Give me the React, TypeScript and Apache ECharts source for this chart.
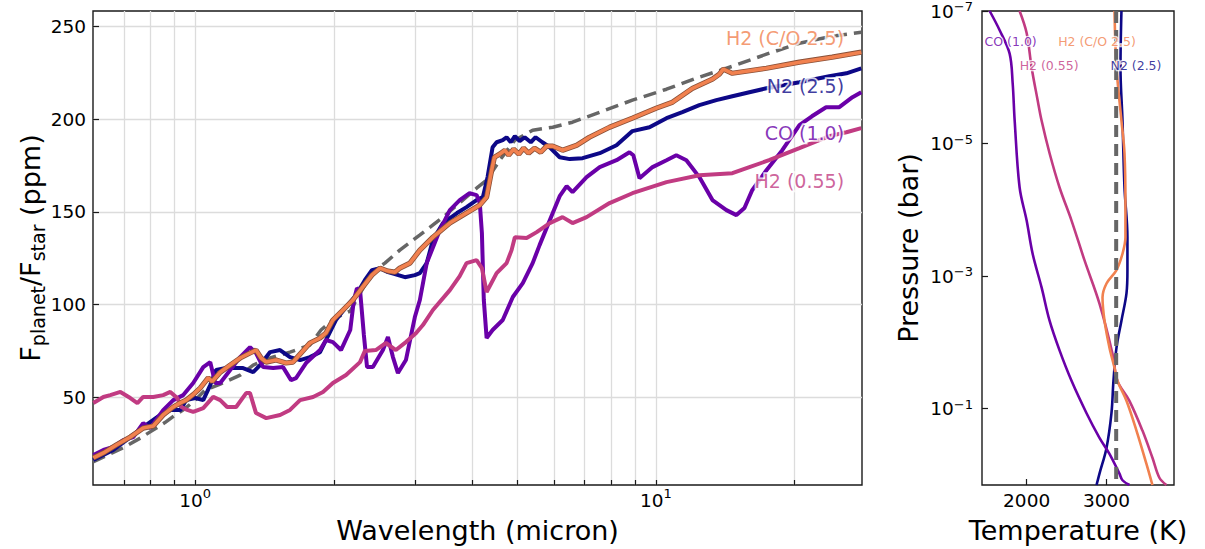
import React, { useEffect, useRef } from 'react';
import * as echarts from 'echarts';

const FONT = 'DejaVu Sans';
const NAVY = '#0d0887';
const PURPLE = '#6a00a8';
const PINK = '#c13b82';
const ORANGE = '#f1814f';
const GREY = '#666666';

// ---------- Emission spectra: [wavelength (micron), Fplanet/Fstar (ppm)] ----------
const isoSpectrum = [
  [0.60, 15.1], [0.654, 19.5], [0.698, 22.8], [0.76, 28.0], [0.80, 31.5], [0.861, 36.5], [0.90, 40.0],
  [0.951, 44.0], [1.0, 48.5], [1.051, 53.9], [1.133, 57.1], [1.252, 62.0], [1.336, 67.4], [1.454, 71.2],
  [1.606, 74.4], [1.774, 78.2], [1.875, 86.3], [2.01, 92.7], [2.17, 96.5], [2.30, 107.8], [2.42, 117.5],
  [2.58, 122.4], [2.78, 129.4], [3.07, 137.5], [3.45, 147.2], [3.70, 153.7], [4.08, 162.8], [4.29, 167.1],
  [4.58, 177.9], [4.94, 188.7], [5.40, 194.1], [5.97, 195.7], [6.59, 198.4], [7.55, 203.8], [8.89, 210.3],
  [10.54, 216.2], [12.42, 222.7], [14.65, 228.6], [17.37, 235.1], [20.48, 241.0], [24.12, 244.8], [27.9, 246.9],
];

const n2Spectrum = [
  [0.601, 16.2], [0.632, 18.9], [0.664, 21.6], [0.709, 26.9], [0.771, 33.9], [0.84, 40.5], [0.883, 43.1],
  [0.928, 43.1], [0.956, 48.5], [1.0, 49.6], [1.041, 48.5], [1.078, 56.6], [1.11, 64.7], [1.167, 65.8],
  [1.27, 65.8], [1.336, 63.6], [1.383, 67.4], [1.454, 74.4], [1.528, 75.5], [1.606, 71.7], [1.689, 70.1],
  [1.774, 71.7], [1.866, 74.4], [1.922, 80.9], [2.02, 91.7], [2.125, 98.7], [2.233, 105.1], [2.334, 113.2],
  [2.418, 118.6], [2.518, 119.7], [2.62, 117.5], [2.713, 116.5], [2.852, 114.8], [2.997, 115.9], [3.073, 117.0],
  [3.18, 122.4], [3.28, 134.8], [3.45, 144.0], [3.70, 149.4], [3.88, 152.6], [4.08, 156.4], [4.21, 158.0],
  [4.31, 168.8], [4.42, 184.9], [4.51, 187.6], [4.65, 188.7], [4.74, 190.3], [4.84, 187.6], [4.94, 190.9],
  [5.06, 188.2], [5.19, 190.3], [5.35, 187.6], [5.48, 190.3], [5.67, 187.6], [5.88, 184.9], [6.18, 179.5],
  [6.50, 178.5], [6.93, 179.0], [7.55, 181.7], [8.21, 186.0], [8.89, 193.6], [9.68, 195.7], [10.54, 200.6],
  [11.41, 203.8], [12.42, 207.6], [13.52, 210.3], [14.65, 212.4], [15.95, 214.6], [17.37, 216.7],
  [20.48, 220.0], [23.77, 223.2], [25.9, 224.8], [27.9, 227.5],
];

const h2HighSpectrum = [
  [0.601, 17.3], [0.632, 20.0], [0.674, 24.3], [0.723, 28.6], [0.771, 33.4], [0.811, 34.5], [0.852, 40.5],
  [0.896, 44.8], [0.928, 47.0], [0.956, 48.5], [0.99, 51.5], [1.025, 55.0], [1.067, 60.5], [1.088, 58.5],
  [1.133, 63.5], [1.191, 67.4], [1.252, 71.2], [1.315, 73.9], [1.355, 75.5], [1.39, 71.2], [1.426, 69.0],
  [1.498, 70.1], [1.574, 68.5], [1.63, 69.0], [1.697, 73.9], [1.774, 79.3], [1.866, 82.0], [1.922, 84.7],
  [1.99, 91.7], [2.093, 97.1], [2.199, 102.5], [2.30, 108.9], [2.418, 115.9], [2.518, 119.7], [2.62, 118.1],
  [2.713, 117.5], [2.78, 119.7], [2.924, 122.4], [3.073, 129.4], [3.28, 136.4], [3.57, 144.0], [3.88, 149.4],
  [4.146, 153.7], [4.29, 158.0], [4.40, 172.5], [4.46, 179.5], [4.58, 181.2], [4.70, 183.3], [4.79, 180.6],
  [4.91, 183.9], [5.04, 181.2], [5.16, 184.4], [5.29, 181.7], [5.45, 184.4], [5.62, 182.2], [5.79, 185.5],
  [5.97, 185.5], [6.27, 183.3], [6.73, 186.0], [7.17, 190.3], [7.93, 195.7], [8.89, 200.6], [10.02, 206.0],
  [10.86, 209.2], [12.0, 216.7], [13.26, 221.6], [13.73, 224.3], [14.0, 227.0], [14.65, 224.8],
  [17.37, 227.5], [20.48, 230.8], [24.12, 233.5], [27.9, 236.2],
];

const coSpectrum = [
  [0.601, 18.9], [0.632, 21.6], [0.664, 23.2], [0.698, 26.9], [0.734, 28.6], [0.771, 36.1], [0.799, 33.4],
  [0.852, 43.1], [0.896, 48.5], [0.942, 51.2], [0.99, 57.7], [1.041, 66.3], [1.078, 69.0], [1.105, 57.7],
  [1.133, 57.7], [1.191, 64.7], [1.252, 71.7], [1.315, 77.1], [1.355, 73.9], [1.404, 66.3], [1.476, 65.8],
  [1.551, 66.3], [1.614, 59.3], [1.655, 60.4], [1.74, 68.5], [1.866, 75.5], [1.922, 80.9], [1.99, 79.8],
  [2.072, 75.5], [2.17, 86.3], [2.21, 102.5], [2.244, 108.9], [2.279, 107.8], [2.323, 83.6], [2.36, 66.3],
  [2.43, 66.3], [2.555, 75.5], [2.62, 82.5], [2.686, 71.7], [2.754, 63.1], [2.866, 70.1], [2.997, 93.3],
  [3.073, 102.5], [3.18, 122.4], [3.396, 140.2], [3.57, 151.0], [3.75, 156.4], [3.94, 160.1], [4.08, 159.1],
  [4.146, 154.8], [4.19, 138.6], [4.23, 102.5], [4.29, 82.0], [4.42, 86.3], [4.65, 91.7], [4.89, 104.1],
  [5.14, 111.6], [5.40, 122.4], [5.59, 132.1], [5.97, 149.4], [6.18, 158.5], [6.40, 163.9], [6.59, 160.7],
  [7.07, 168.8], [7.55, 174.2], [8.21, 177.9], [8.76, 182.2], [8.93, 180.6], [9.21, 168.2], [9.83, 174.2],
  [10.54, 177.9], [11.07, 180.6], [11.64, 177.9], [12.42, 168.8], [13.26, 156.4], [14.22, 151.0],
  [14.95, 148.3], [15.56, 152.1], [16.18, 161.8], [17.37, 172.5], [18.8, 183.3], [20.48, 196.8],
  [21.8, 201.6], [23.4, 206.5], [25.0, 206.5], [26.7, 211.9], [27.9, 214.6],
];

const h2LowSpectrum = [
  [0.601, 46.9], [0.632, 50.2], [0.654, 51.2], [0.688, 52.9], [0.723, 49.6], [0.749, 46.9], [0.771, 50.2],
  [0.811, 50.2], [0.852, 51.2], [0.883, 52.9], [0.914, 49.6], [0.933, 44.8], [0.961, 43.2], [0.99, 42.1],
  [1.041, 44.2], [1.094, 50.2], [1.133, 48.5], [1.173, 44.8], [1.227, 44.8], [1.29, 52.3], [1.315, 52.3],
  [1.355, 41.5], [1.426, 38.8], [1.528, 40.5], [1.606, 43.2], [1.689, 48.5], [1.802, 50.2], [1.894, 52.9],
  [1.99, 57.7], [2.125, 62.0], [2.279, 69.0], [2.334, 75.0], [2.466, 75.5], [2.594, 79.3], [2.726, 75.5],
  [2.866, 79.8], [3.013, 84.6], [3.12, 89.0], [3.28, 97.1], [3.57, 107.8], [3.75, 115.4], [3.88, 122.4],
  [4.08, 124.0], [4.19, 119.7], [4.29, 106.8], [4.51, 117.0], [4.74, 122.4], [4.86, 129.4], [4.94, 136.4],
  [5.24, 135.9], [5.51, 139.1], [5.88, 144.0], [6.27, 147.2], [6.59, 144.0], [7.07, 147.2], [7.93, 154.8],
  [8.89, 160.1], [10.54, 166.1], [12.42, 169.8], [14.65, 170.9], [15.95, 174.2], [17.6, 177.9],
  [20.48, 184.4], [23.77, 190.9], [25.9, 193.0], [27.9, 195.2],
];

// ---------- Temperature-pressure profiles: [T (K), P (bar)] ----------
const isoProfile = [[3121, 1e-7], [3121, 1.416]];
const coProfile = [
  [1537, 1e-7], [1662, 1.95e-7], [1787, 4.4e-7], [1825, 1.23e-6], [1850, 4.5e-6], [1912, 4.6e-5],
  [2000, 1.45e-4], [2075, 4.6e-4], [2187, 1.48e-3], [2287, 4.7e-3], [2412, 0.0132], [2562, 0.038],
  [2750, 0.117], [2912, 0.275], [3037, 0.48], [3162, 0.955], [3200, 1.2], [3287, 1.416],
];
const h2LowProfile = [
  [1912, 1e-7], [2000, 2.15e-7], [2062, 7.1e-7], [2137, 2.2e-6], [2187, 4.5e-6], [2287, 1.4e-5],
  [2412, 4.6e-5], [2562, 1.45e-4], [2725, 5.8e-4], [2912, 2.6e-3], [3075, 0.0148], [3137, 0.038],
  [3287, 0.076], [3450, 0.214], [3575, 0.55], [3662, 1.1], [3750, 1.416],
];
const h2HighProfile = [
  [3100, 1e-7], [3125, 7.1e-7], [3187, 4.5e-6], [3225, 1.4e-5], [3237, 7.9e-5], [3237, 2.6e-4],
  [3200, 4.6e-4], [3125, 8.1e-4], [3000, 1.29e-3], [2950, 2.1e-3], [2975, 4.7e-3], [3037, 0.012],
  [3100, 0.024], [3137, 0.038], [3250, 0.076], [3375, 0.214], [3500, 0.68], [3575, 1.416],
];
const n2Profile = [
  [3187, 1e-7], [3175, 7.1e-7], [3200, 4.5e-6], [3225, 4.6e-5], [3262, 2.6e-4], [3262, 8.1e-4],
  [3250, 1.82e-3], [3187, 4.7e-3], [3125, 0.012], [3087, 0.038], [3062, 0.117], [3000, 0.39],
  [2912, 0.955], [2875, 1.416],
];

// ---------- Ticks ----------
const wlLabelTicks = [1, 10];
const wlGridTicks = [0.7, 0.8, 0.9, 1, 2, 3, 4, 5, 6, 7, 8, 9, 10, 20];
const fluxTicks = [50, 100, 150, 200, 250];
const tempTicks = [2000, 3000];
const pressureTicks = [1.0001e-7, 1e-5, 1e-3, 1e-1];

// ---------- In-plot labels ----------
const spectrumLabels = [
  { text: 'H2 (C/O 2.5)', wl: 25.6, flux: 243.7, color: ORANGE },
  { text: 'N2 (2.5)', wl: 25.6, flux: 217.8, color: NAVY },
  { text: 'CO (1.0)', wl: 25.6, flux: 192.7, color: PURPLE },
  { text: 'H2 (0.55)', wl: 25.6, flux: 166.8, color: PINK },
];
const profileLabels = [
  { text: 'CO (1.0)', t: 1800, p: 2.9e-7, color: PURPLE },
  { text: 'H2 (C/O 2.5)', t: 2881, p: 2.9e-7, color: ORANGE },
  { text: 'H2 (0.55)', t: 2281, p: 6.56e-7, color: PINK },
  { text: 'N2 (2.5)', t: 3369, p: 6.56e-7, color: NAVY },
];

const supRich = {
  sup: { fontSize: 13, lineHeight: 16, verticalAlign: 'top', fontFamily: FONT, color: '#000' },
};
const supRichY = {
  sup: { fontSize: 13, lineHeight: 14, verticalAlign: 'top', fontFamily: FONT, color: '#000' },
};
const powLabel = (v: number) => {
  const e = Math.round(Math.log10(v));
  return '10{sup|' + (e < 0 ? '\u2212' + Math.abs(e) : String(e)) + '}';
};

export default function App() {
  const ref = useRef<HTMLDivElement>(null);
  useEffect(() => {
    if (!ref.current) return;
    const chart = echarts.init(ref.current, undefined, { renderer: 'svg' });
    const lineBase = { type: 'line', symbol: 'none', silent: true, clip: true };
    const option: any = {
      animation: false,
      backgroundColor: '#fff',
      grid: [
        { left: 93, top: 11, width: 769, height: 474, show: true, borderColor: '#1a1a1a', borderWidth: 1.4, backgroundColor: 'transparent', containLabel: false, outerBoundsMode: 'none' },
        { left: 982, top: 11, width: 192, height: 474, show: true, borderColor: '#1a1a1a', borderWidth: 1.4, backgroundColor: 'transparent', containLabel: false, outerBoundsMode: 'none' },
      ],
      xAxis: [
        {
          type: 'log', logBase: 10, gridIndex: 0, min: 0.6, max: 28,
          axisLine: { show: false },
          axisTick: { show: true, inside: true, length: 5, customValues: wlGridTicks, lineStyle: { color: '#1a1a1a', width: 1.2 } },
          axisLabel: { show: true, customValues: wlLabelTicks, formatter: powLabel, rich: supRich, fontSize: 18.5, lineHeight: 26, margin: 2, fontFamily: FONT, color: '#000' },
          splitLine: { show: true, lineStyle: { color: '#dcdcdc', width: 1.3 } },
          minorTick: { show: false }, minorSplitLine: { show: false },
        },
        {
          type: 'value', gridIndex: 1, min: 1441, max: 3845,
          axisLine: { show: false },
          axisTick: { show: true, inside: true, length: 6, customValues: tempTicks, lineStyle: { color: '#1a1a1a', width: 1.2 } },
          axisLabel: { show: true, customValues: tempTicks, formatter: (v: number) => String(Math.round(v)), fontSize: 18.5, lineHeight: 26, margin: 2, fontFamily: FONT, color: '#000' },
          splitLine: { show: false },
        },
      ],
      yAxis: [
        {
          type: 'value', gridIndex: 0, min: 2.7, max: 258.4,
          axisLine: { show: false },
          axisTick: { show: true, inside: true, length: 6, customValues: fluxTicks, lineStyle: { color: '#1a1a1a', width: 1.2 } },
          axisLabel: { show: true, customValues: fluxTicks, formatter: (v: number) => String(Math.round(v)), fontSize: 18.5, margin: 7, fontFamily: FONT, color: '#000' },
          splitLine: { show: true, lineStyle: { color: '#dcdcdc', width: 1.3 } },
        },
        {
          type: 'log', logBase: 10, gridIndex: 1, inverse: true, min: 1e-7, max: 1.416,
          axisLine: { show: false },
          axisTick: { show: true, inside: true, length: 6, customValues: pressureTicks, lineStyle: { color: '#1a1a1a', width: 1.2 } },
          axisLabel: { show: true, customValues: pressureTicks, formatter: powLabel, rich: supRichY, fontSize: 18.5, lineHeight: 22, margin: 9, fontFamily: FONT, color: '#000' },
          splitLine: { show: false },
        },
      ],
      series: [
        { ...lineBase, name: 'iso', xAxisIndex: 0, yAxisIndex: 0, data: isoSpectrum, lineStyle: { color: GREY, width: 3.5, type: [13, 7] } },
        { ...lineBase, name: 'N2 (2.5)', xAxisIndex: 0, yAxisIndex: 0, data: n2Spectrum, lineStyle: { color: NAVY, width: 4 } },
        { ...lineBase, name: 'CO (1.0)', xAxisIndex: 0, yAxisIndex: 0, data: coSpectrum, lineStyle: { color: PURPLE, width: 4 } },
        { ...lineBase, name: 'H2 (0.55)', xAxisIndex: 0, yAxisIndex: 0, data: h2LowSpectrum, lineStyle: { color: PINK, width: 4 } },
        { ...lineBase, name: 'H2 (C/O 2.5) edge', xAxisIndex: 0, yAxisIndex: 0, data: h2HighSpectrum, lineStyle: { color: '#8a5038', width: 5.2 } },
        { ...lineBase, name: 'H2 (C/O 2.5)', xAxisIndex: 0, yAxisIndex: 0, data: h2HighSpectrum, lineStyle: { color: ORANGE, width: 3.6 } },
        {
          type: 'scatter', xAxisIndex: 0, yAxisIndex: 0, z: 10, symbolSize: 1, silent: true,
          itemStyle: { color: 'rgba(0,0,0,0)' },
          label: { show: true, position: 'inside', align: 'right', verticalAlign: 'middle', fontSize: 19, fontFamily: FONT, textBorderColor: '#fff', textBorderWidth: 3.5 },
          data: spectrumLabels.map((l) => ({ value: [l.wl, l.flux], label: { formatter: l.text, color: l.color } })),
        },
        { ...lineBase, name: 'N2 TP', xAxisIndex: 1, yAxisIndex: 1, smooth: 0.35, data: n2Profile, lineStyle: { color: NAVY, width: 2.6 } },
        { ...lineBase, name: 'CO TP', xAxisIndex: 1, yAxisIndex: 1, smooth: 0.35, data: coProfile, lineStyle: { color: PURPLE, width: 2.6 } },
        { ...lineBase, name: 'H2 low TP', xAxisIndex: 1, yAxisIndex: 1, smooth: 0.35, data: h2LowProfile, lineStyle: { color: PINK, width: 2.6 } },
        { ...lineBase, name: 'H2 high TP', xAxisIndex: 1, yAxisIndex: 1, smooth: 0.35, data: h2HighProfile, lineStyle: { color: ORANGE, width: 2.6 } },
        { ...lineBase, name: 'iso TP', xAxisIndex: 1, yAxisIndex: 1, data: isoProfile, lineStyle: { color: GREY, width: 4, type: [12, 7] } },
        {
          type: 'scatter', xAxisIndex: 1, yAxisIndex: 1, z: 10, symbolSize: 1, silent: true,
          itemStyle: { color: 'rgba(0,0,0,0)' },
          label: { show: true, position: 'inside', align: 'center', verticalAlign: 'middle', fontSize: 12.5, fontFamily: FONT, textBorderColor: '#fff', textBorderWidth: 2.5 },
          data: profileLabels.map((l) => ({ value: [l.t, l.p], label: { formatter: l.text, color: l.color } })),
        },
      ],
      graphic: [
        { type: 'text', x: 477.5, y: 530, silent: true, style: { text: 'Wavelength (micron)', fontSize: 27, fontFamily: FONT, fill: '#000', align: 'center', verticalAlign: 'middle', textAlign: 'center', textVerticalAlign: 'middle' } },
        { type: 'text', x: 1078, y: 530, silent: true, style: { text: 'Temperature (K)', fontSize: 27, fontFamily: FONT, fill: '#000', align: 'center', verticalAlign: 'middle', textAlign: 'center', textVerticalAlign: 'middle' } },
        { type: 'text', x: 908, y: 248, rotation: Math.PI / 2, silent: true, style: { text: 'Pressure (bar)', fontSize: 27, fontFamily: FONT, fill: '#000', align: 'center', verticalAlign: 'middle', textAlign: 'center', textVerticalAlign: 'middle' } },
        {
          type: 'text', x: 30, y: 248, rotation: Math.PI / 2, silent: true,
          style: {
            text: 'F{sub|planet}/F{sub|star} (ppm)', fontSize: 27, lineHeight: 34, fontFamily: FONT, fill: '#000',
            align: 'center', verticalAlign: 'middle', textAlign: 'center', textVerticalAlign: 'middle',
            rich: { sub: { fontSize: 19, lineHeight: 18, verticalAlign: 'bottom', fontFamily: FONT, fill: '#000' } },
          },
        },
      ],
    };
    chart.setOption(option);
    return () => chart.dispose();
  }, []);
  return (
    <div
      ref={ref}
      style={{ position: 'fixed', left: 0, top: 0, width: '1205px', height: '549px', background: '#fff' }}
    />
  );
}
